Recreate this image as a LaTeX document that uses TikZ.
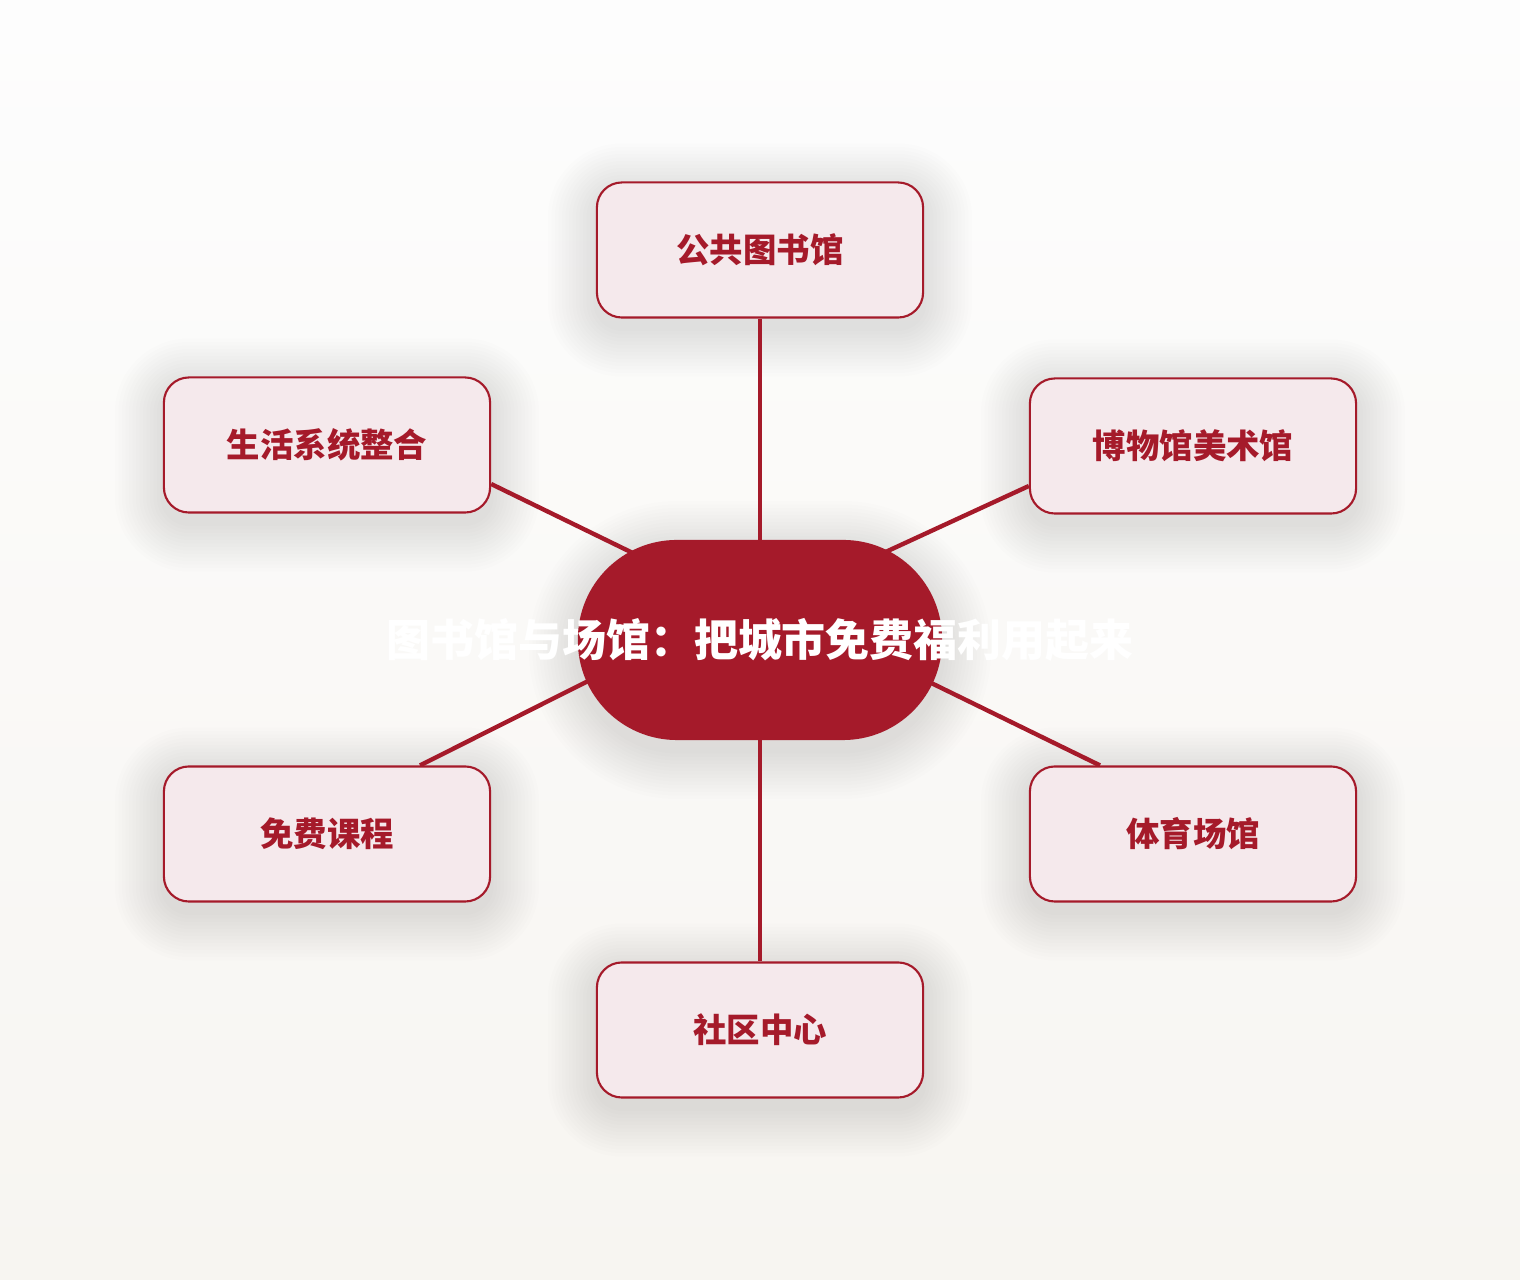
\documentclass[tikz,border=0pt]{standalone}
\usepackage{fontspec}
\setmainfont{Noto Sans CJK SC}
\usepackage{tikz}
\usetikzlibrary{backgrounds}
\usetikzlibrary{positioning}
\definecolor{wine}{HTML}{A51A2A}
\definecolor{blush}{HTML}{F5E9EC}
\definecolor{paperTop}{HTML}{FDFDFD}
\definecolor{paperBot}{HTML}{F7F5F1}
\tikzset{
  topic/.style={draw=wine,line width=0.6pt,fill=blush,rounded corners=0.25cm,
    minimum width=3.26cm,minimum height=1.35cm,text=wine,
    font=\fontsize{9.5}{11}\selectfont\bfseries},
  hub/.style={fill=wine,rounded corners=0.99cm,minimum width=3.64cm,minimum height=2cm,
    text=white,font=\fontsize{12.5}{14}\selectfont\bfseries},
  haze/.style={fill=black,opacity=0.0095,inner sep=0pt},
  link/.style={draw=wine,line width=1.25pt}
}
\begin{document}
\begin{tikzpicture}[x=0.01cm,y=-0.01cm]
\useasboundingbox (0,0) rectangle (1520,1280);
\node[hub](hub) at (760, 640) {\makebox[0pt]{图书馆与场馆：把城市免费福利用起来}};

\node[topic](lib) at (760, 250) {公共图书馆};
\node[topic](life) at (327, 445) {生活系统整合};
\node[topic](museum) at (1193, 446) {博物馆美术馆};
\node[topic](course) at (327, 834) {免费课程};
\node[topic](sport) at (1193, 834) {体育场馆};
\node[topic](community) at (760, 1030) {社区中心};

% hidden ends of the side links, inside the hub
\coordinate (ulIn) at (680, 576); \coordinate (urIn) at (840, 573);
\coordinate (llIn) at (640, 655); \coordinate (lrIn) at (880, 658);

\begin{scope}[on background layer]
\shade[top color=paperTop,bottom color=paperBot] (0,0) rectangle (1520,1280);
% soft shadows
\foreach \n/\w/\h/\rc in {lib/3.26/1.35/0.25,life/3.26/1.35/0.25,museum/3.26/1.35/0.25,
    course/3.26/1.35/0.25,sport/3.26/1.35/0.25,community/3.26/1.35/0.25,hub/3.64/2/1}
  \foreach \k in {1,...,14}
    \node[haze,rounded corners=\rc cm+0.035cm*\k,minimum width=\w cm+0.07cm*\k,
      minimum height=\h cm+0.07cm*\k] at ([yshift=-0.1cm]\n.center) {};
\draw[link] (hub.center)--(lib); \draw[link] (hub.center)--(community);
\draw[link] (ulIn)--([shift={(0,39)}]life.east);
\draw[link] (urIn)--([shift={(0,40)}]museum.west);
\draw[link] (llIn)--([shift={(93,0)}]course.north);
\draw[link] (lrIn)--([shift={(-93,0)}]sport.north);
\end{scope}
\end{tikzpicture}
\end{document}
